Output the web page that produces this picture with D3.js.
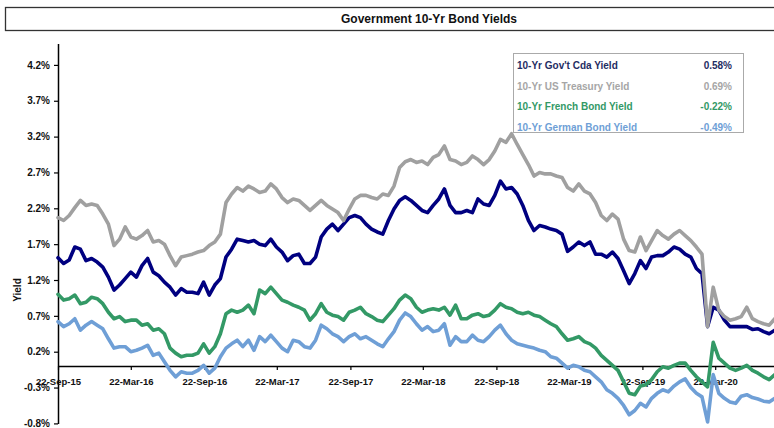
<!DOCTYPE html>
<html><head><meta charset="utf-8">
<script src="https://cdn.jsdelivr.net/npm/d3@7"></script>
<style>body{margin:0;background:#fff}svg{display:block;font-family:"Liberation Sans",Arial,sans-serif}</style>
</head><body><div id="chart"></div>
<script>
const dates=["2015-09-22","2015-10-06","2015-10-20","2015-11-03","2015-11-17","2015-12-01","2015-12-15","2015-12-29",
"2016-01-12","2016-01-26","2016-02-09","2016-02-23","2016-03-08","2016-03-22","2016-04-05","2016-04-19","2016-05-03","2016-05-17","2016-05-31","2016-06-14","2016-06-28","2016-07-12","2016-07-26","2016-08-09","2016-08-23","2016-09-06","2016-09-20","2016-10-04","2016-10-18","2016-11-01","2016-11-15","2016-11-29","2016-12-13","2016-12-27",
"2017-01-10","2017-01-24","2017-02-07","2017-02-21","2017-03-07","2017-03-21","2017-04-04","2017-04-18","2017-05-02","2017-05-16","2017-05-30","2017-06-13","2017-06-27","2017-07-11","2017-07-25","2017-08-08","2017-08-22","2017-09-05","2017-09-19","2017-10-03","2017-10-17","2017-10-31","2017-11-14","2017-11-28","2017-12-12","2017-12-26",
"2018-01-09","2018-01-23","2018-02-06","2018-02-20","2018-03-06","2018-03-20","2018-04-03","2018-04-17","2018-05-01","2018-05-15","2018-05-29","2018-06-12","2018-06-26","2018-07-10","2018-07-24","2018-08-07","2018-08-21","2018-09-04","2018-09-18","2018-10-02","2018-10-16","2018-10-30","2018-11-13","2018-11-27","2018-12-11","2018-12-25",
"2019-01-08","2019-01-22","2019-02-05","2019-02-19","2019-03-05","2019-03-19","2019-04-02","2019-04-16","2019-04-30","2019-05-14","2019-05-28","2019-06-11","2019-06-25","2019-07-09","2019-07-23","2019-08-06","2019-08-20","2019-09-03","2019-09-17","2019-10-01","2019-10-15","2019-10-29","2019-11-12","2019-11-26","2019-12-10","2019-12-24",
"2020-01-07","2020-01-21","2020-02-04","2020-02-18","2020-03-03","2020-03-17","2020-03-31","2020-04-14","2020-04-28","2020-05-12","2020-05-26","2020-06-09","2020-06-23","2020-07-07","2020-07-21","2020-08-04","2020-08-18"];

const cdaYield=[1.51,1.43,1.48,1.66,1.63,1.47,1.50,1.45,1.38,1.24,1.06,1.13,1.22,1.31,1.24,1.40,1.50,1.31,1.26,1.17,1.10,0.99,1.08,1.03,1.03,1.01,1.17,0.99,1.13,1.22,1.52,1.63,
1.77,1.75,1.73,1.75,1.70,1.68,1.77,1.66,1.59,1.47,1.54,1.56,1.43,1.43,1.52,1.80,1.91,1.98,1.89,1.98,2.07,2.10,2.07,1.98,1.91,1.87,1.84,2.03,2.19,2.31,2.36,
2.31,2.24,2.17,2.14,2.24,2.33,2.47,2.24,2.14,2.14,2.17,2.14,2.33,2.26,2.24,2.38,2.58,2.47,2.49,2.40,2.24,2.03,1.89,1.96,1.94,1.91,1.89,1.84,1.60,1.66,1.73,1.68,
1.73,1.56,1.56,1.52,1.59,1.50,1.33,1.15,1.29,1.47,1.36,1.52,1.54,1.54,1.59,1.66,1.63,1.56,1.52,1.36,1.29,0.55,0.82,0.78,0.64,0.55,0.55,0.55,0.55,0.51,0.52,0.48,0.45,0.50];

const usYield=[2.07,2.03,2.10,2.21,2.31,2.24,2.26,2.24,2.12,1.98,1.68,1.77,1.94,1.80,1.77,1.82,1.89,1.73,1.75,1.70,1.54,1.40,1.52,1.54,1.56,1.59,1.61,1.68,1.73,1.84,2.28,2.40,
2.49,2.44,2.51,2.47,2.42,2.44,2.54,2.47,2.35,2.28,2.33,2.31,2.24,2.17,2.24,2.31,2.24,2.19,2.14,2.03,2.19,2.33,2.38,2.38,2.35,2.33,2.40,2.38,2.51,2.77,2.85,
2.88,2.84,2.86,2.81,2.91,2.95,3.07,2.88,2.86,2.81,2.84,2.93,2.88,2.81,2.88,3.00,3.16,3.12,3.24,3.09,2.95,2.81,2.65,2.70,2.68,2.68,2.65,2.63,2.49,2.44,2.54,2.44,
2.40,2.28,2.10,2.03,2.12,2.05,1.77,1.61,1.59,1.80,1.61,1.75,1.89,1.82,1.77,1.84,1.89,1.82,1.75,1.66,1.56,0.55,1.10,0.78,0.69,0.64,0.66,0.69,0.82,0.66,0.62,0.59,0.57,0.66];

const frYield=[1.00,0.92,0.94,0.99,0.87,0.89,0.96,0.94,0.87,0.75,0.66,0.69,0.62,0.64,0.64,0.57,0.59,0.50,0.52,0.45,0.25,0.18,0.13,0.15,0.15,0.18,0.31,0.18,0.27,0.45,0.73,0.78,
0.75,0.78,0.85,0.73,1.06,1.01,1.10,1.01,0.92,0.89,0.85,0.82,0.78,0.64,0.73,0.87,0.75,0.71,0.69,0.64,0.75,0.78,0.82,0.73,0.69,0.64,0.62,0.71,0.80,0.92,0.99,
0.94,0.82,0.75,0.78,0.80,0.78,0.82,0.71,0.85,0.66,0.66,0.71,0.73,0.69,0.71,0.78,0.87,0.82,0.80,0.75,0.73,0.75,0.71,0.69,0.64,0.59,0.55,0.45,0.36,0.38,0.41,0.34,
0.31,0.25,0.15,0.08,0.01,-0.06,-0.22,-0.38,-0.40,-0.28,-0.26,-0.19,-0.08,-0.01,-0.03,0.01,0.04,0.04,-0.06,-0.15,-0.22,-0.29,0.33,0.11,0.04,-0.03,-0.06,-0.03,0.01,-0.06,-0.10,-0.15,-0.19,-0.12];

const deYield=[0.62,0.55,0.59,0.66,0.50,0.57,0.62,0.57,0.52,0.38,0.25,0.27,0.27,0.20,0.22,0.25,0.29,0.15,0.18,0.06,-0.06,-0.15,-0.08,-0.10,-0.10,-0.06,0.01,-0.10,-0.03,0.13,0.25,0.31,
0.36,0.27,0.36,0.22,0.41,0.34,0.43,0.34,0.25,0.20,0.36,0.34,0.27,0.25,0.36,0.57,0.52,0.45,0.41,0.34,0.41,0.45,0.38,0.41,0.36,0.31,0.27,0.38,0.48,0.64,0.74,
0.69,0.59,0.50,0.55,0.48,0.50,0.59,0.29,0.41,0.34,0.34,0.43,0.36,0.34,0.41,0.50,0.57,0.45,0.36,0.31,0.29,0.27,0.25,0.22,0.20,0.13,0.11,0.04,-0.03,0.01,-0.01,-0.06,
-0.08,-0.15,-0.22,-0.33,-0.38,-0.45,-0.55,-0.68,-0.62,-0.52,-0.57,-0.45,-0.38,-0.33,-0.36,-0.28,-0.22,-0.18,-0.30,-0.38,-0.43,-0.78,-0.12,-0.38,-0.45,-0.50,-0.52,-0.42,-0.40,-0.44,-0.46,-0.49,-0.50,-0.45];

const seriesNames=["10-Yr Gov't Cda Yield","10-Yr US Treasury Yield","10-Yr French Bond Yield","10-Yr German Bond Yield"];
const lastValues=["0.58%","0.69%","-0.22%","-0.49%"];
const lineColors=["#000080","#a0a0a0","#339966","#6f9fd6"];
const legendColors=["#1f2d63","#a6a6a6","#339966","#6f9fd6"];
const yTicks=[-0.8,-0.3,0.2,0.7,1.2,1.7,2.2,2.7,3.2,3.7,4.2];
const xTickDates=["2015-09-22","2016-03-22","2016-09-22","2017-03-22","2017-09-22","2018-03-22","2018-09-22","2019-03-22","2019-09-22","2020-03-22"];
const chartTitle="Government 10-Yr Bond Yields";
const yTitle="Yield";

const W=774,H=428;
const parse=d3.utcParse("%Y-%m-%d");
const svg=d3.select("#chart").append("svg").attr("width",W).attr("height",H);

// title box
svg.append("rect").attr("x",5.5).attr("y",7.5).attr("width",820).attr("height",23)
  .attr("fill","#fff").attr("stroke","#333").attr("stroke-width",1.3);
svg.append("text").attr("x",429).attr("y",23).attr("text-anchor","middle")
  .attr("font-size","12px").attr("font-weight","bold").attr("fill","#111").text(chartTitle);

const x=d3.scaleUtc().domain([parse("2015-09-22"),parse("2020-09-22")]).range([58,788.8]);
const y=d3.scaleLinear().domain([-0.8,4.5]).range([423.4,43.4]);

// y axis
const ya=svg.append("g").attr("transform","translate(58,0)")
  .call(d3.axisLeft(y).tickValues(yTicks).tickFormat(d=>d.toFixed(1)+"%").tickSize(4).tickSizeOuter(0).tickPadding(4));
ya.select(".domain").attr("stroke","#000").attr("stroke-width",1.5);
ya.selectAll(".tick line").attr("stroke","#000").attr("stroke-width",1.2);
ya.selectAll("text").attr("font-size","10px").attr("font-weight","bold").attr("fill","#111")
  .attr("font-family","'Liberation Sans',Arial,sans-serif");

// x axis at zero
const xa=svg.append("g").attr("transform",`translate(0,${y(0)})`)
  .call(d3.axisBottom(x).tickValues(xTickDates.map(parse)).tickFormat(d3.utcFormat("%d-%b-%y")).tickSize(4).tickSizeOuter(0).tickPadding(8));
xa.select(".domain").attr("stroke","#000").attr("stroke-width",1.5);
xa.selectAll(".tick line").attr("stroke","#000").attr("stroke-width",1.2);
xa.selectAll("text").attr("font-size","9.5px").attr("font-weight","bold").attr("fill","#111")
  .attr("font-family","'Liberation Sans',Arial,sans-serif");

svg.append("text").attr("transform","translate(17,290) rotate(-90)").attr("text-anchor","middle")
  .attr("dominant-baseline","central").attr("font-size","10px").attr("font-weight","bold").attr("fill","#111").text(yTitle);

// lines
const allSeries=[cdaYield,usYield,frYield,deYield];
const line=d3.line().x(d=>x(d.date)).y(d=>y(d.v));
allSeries.forEach((vals,i)=>{
  const data=dates.map((d,j)=>({date:parse(d),v:vals[j]})).filter(d=>d.v!==undefined);
  svg.append("path").datum(data).attr("d",line).attr("fill","none")
    .attr("stroke",lineColors[i]).attr("stroke-width",3.6).attr("stroke-linejoin","round").attr("stroke-linecap","round");
});

// legend
const lg=svg.append("g");
lg.append("rect").attr("x",513.5).attr("y",53.5).attr("width",230).attr("height",79)
  .attr("fill","#fff").attr("stroke","#555").attr("stroke-width",1).attr("stroke-dasharray","1,1");
seriesNames.forEach((n,i)=>{
  const yy=68.8+i*20.7;
  lg.append("text").attr("x",517).attr("y",yy).attr("font-size","10px").attr("font-weight","bold")
    .attr("fill",legendColors[i]).text(n);
  lg.append("text").attr("x",732).attr("y",yy).attr("text-anchor","end").attr("font-size","10px").attr("font-weight","bold")
    .attr("fill",legendColors[i]).text(lastValues[i]);
});
</script></body></html>
